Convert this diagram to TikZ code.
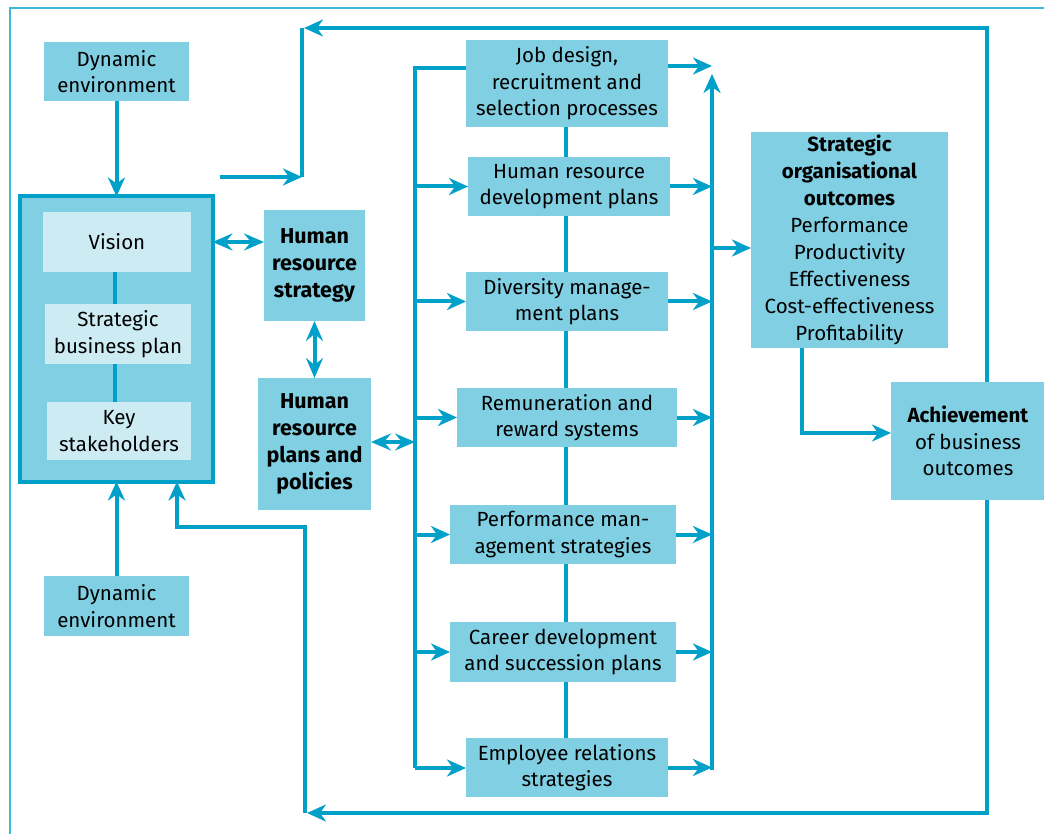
\documentclass[tikz,border=0pt]{standalone}
\usepackage{fontspec}
\setmainfont{Fira Sans}
\usetikzlibrary{arrows.meta}
\definecolor{hrline}{HTML}{00A0C8}
\definecolor{hrfill}{HTML}{80CFE2}
\definecolor{hrpale}{HTML}{CDEBF3}
\definecolor{hrframe}{HTML}{40B8DA}
\tikzset{
  hrbox/.style={fill=hrfill, inner sep=0pt, outer sep=0pt, align=center,
    font=\fontsize{20.5}{26.5}\selectfont},
  palebox/.style={hrbox, fill=hrpale},
  keybox/.style={hrbox, font=\fontsize{21.5}{27}\selectfont\bfseries},
  conn/.style={draw=hrline, line width=4pt,
    -{Stealth[length=19pt,width=17pt,inset=6pt]}},
  link/.style={draw=hrline, line width=4pt},
  twoway/.style={draw=hrline, line width=4pt,
    {Stealth[length=20pt,width=17pt,inset=7pt]}-{Stealth[length=20pt,width=17pt,inset=7pt]}}
}
\begin{document}
\begin{tikzpicture}[x=1pt, y=-1pt]
    \useasboundingbox (0,0) rectangle (1044,834);
    % Draw the frame
    \draw[hrframe, line width=2pt] (1044,8) -- (10,8) -- (10,834);

    % Left column
    \node[hrbox, minimum width=145, minimum height=59] (dyntop) at (116.5,71.5) {Dynamic\\environment};
    \node[hrbox, draw=hrline, line width=4pt, minimum width=193, minimum height=285] (core) at (116,339) {};
    \node[palebox, minimum width=148, minimum height=60] (vision) at (117,242) {Vision};
    \node[palebox, minimum width=146, minimum height=60] (plan) at (118,334) {Strategic\\business plan};
    \node[palebox, minimum width=144, minimum height=58] (stake) at (119,431) {Key\\stakeholders};
    \node[hrbox, minimum width=145, minimum height=60] (dynbot) at (116.5,606) {Dynamic\\environment};
    \draw[link] (vision.south -| 115,0) -- (plan.north -| 115,0);
    \draw[link] (plan.south -| 115,0) -- (stake.north -| 115,0);

    % Strategy and plans
    \node[keybox, minimum width=101, minimum height=111] (hrs) at (314.5,265.5) {Human\\resource\\strategy};
    \node[keybox, minimum width=113, minimum height=132] (hrp) at (314.5,444) {Human\\resource\\plans and\\policies};

    % Middle column
    \coordinate (spine) at (566,0);
    \coordinate (lbus) at (415,0);
    \coordinate (rbus) at (712,0);
    \node[hrbox, minimum width=202, minimum height=87] (job) at (567,83.5) {Job design,\\recruitment and\\selection processes};
    \node[hrbox, minimum width=202, minimum height=59] (hrd) at (569,186.5) {Human resource\\development plans};
    \node[hrbox, minimum width=202, minimum height=59] (div) at (567,301.5) {Diversity manage-\\ment plans};
    \node[hrbox, minimum width=220, minimum height=59] (rem) at (567,417.5) {Remuneration and\\reward systems};
    \node[hrbox, minimum width=226, minimum height=59] (perf) at (563,534.5) {Performance man-\\agement strategies};
    \node[hrbox, minimum width=226, minimum height=60] (car) at (563,652) {Career development\\and succession plans};
    \node[hrbox, minimum width=202, minimum height=59] (emp) at (567,767.5) {Employee relations\\strategies};
    \foreach \a/\b in {job/hrd, hrd/div, div/rem, rem/perf, perf/car, car/emp}
        \draw[link] (\a.south -| spine) -- (\b.north -| spine);

    % Right column
    \node[hrbox, minimum width=197, minimum height=216, font=\fontsize{20.5}{27}\selectfont] (soo) at (849.5,240)
        {\textbf{Strategic}\\\textbf{organisational}\\\textbf{outcomes}\\Performance\\Productivity\\Effectiveness\\Cost-effectiveness\\Profitability};
    \node[hrbox, minimum width=154, minimum height=118] (ach) at (968,441) {\textbf{Achievement}\\of business\\outcomes};
    \coordinate (rtrack) at (987,0);

    % Environment into the core
    \draw[conn] (dyntop.south) -- (core.north -| dyntop.south);
    \draw[conn] (dynbot.north) -- (core.south -| dynbot.north);
    \draw[twoway] (vision.east -| core.east) -- (vision.east -| hrs.west);
    \draw[twoway] (hrs.south) -- (hrp.north);

    % Left bus
    \draw[link] (job.west |- 0,68) -- (lbus |- 0,68) -- (lbus |- 0,768);
    \draw[conn] (lbus |- 0,768) -- (emp.west |- 0,768);
    \draw[twoway] (hrp.east |- 0,442) -- (lbus |- 0,442);
    \foreach \b in {hrd, div, rem, perf, car}
        \draw[conn] (lbus |- \b.west) -- (\b.west);

    % Right bus
    \draw[conn] (rbus |- 0,770) -- (rbus |- 0,74);
    \draw[conn] (job.east |- 0,66) -- (rbus |- 0,66);
    \foreach \b in {hrd, div, rem, perf, car, emp}
        \draw[conn] (\b.east) -- (rbus |- \b.east);
    \draw[conn] (rbus |- 0,248) -- (soo.west |- 0,248);
    \draw[conn] (soo.south -| 802,0) -- (802,433) -- (ach.west |- 0,433);

    % Feedback loops
    \coordinate (topfree) at (220,177);
    \draw[conn] (ach.north -| rtrack) -- (rtrack |- 0,28) -- (304,28);
    \draw[link] (302,28) -- (302,177);
    \draw[conn] (topfree) -- (302,177);
    \draw[conn] (ach.south -| rtrack) -- (rtrack |- 0,813) -- (307,813);
    \draw[conn] (305,813) -- (305,527) -- (177,527) -- (core.south -| 177,0);
\end{tikzpicture}
\end{document}
